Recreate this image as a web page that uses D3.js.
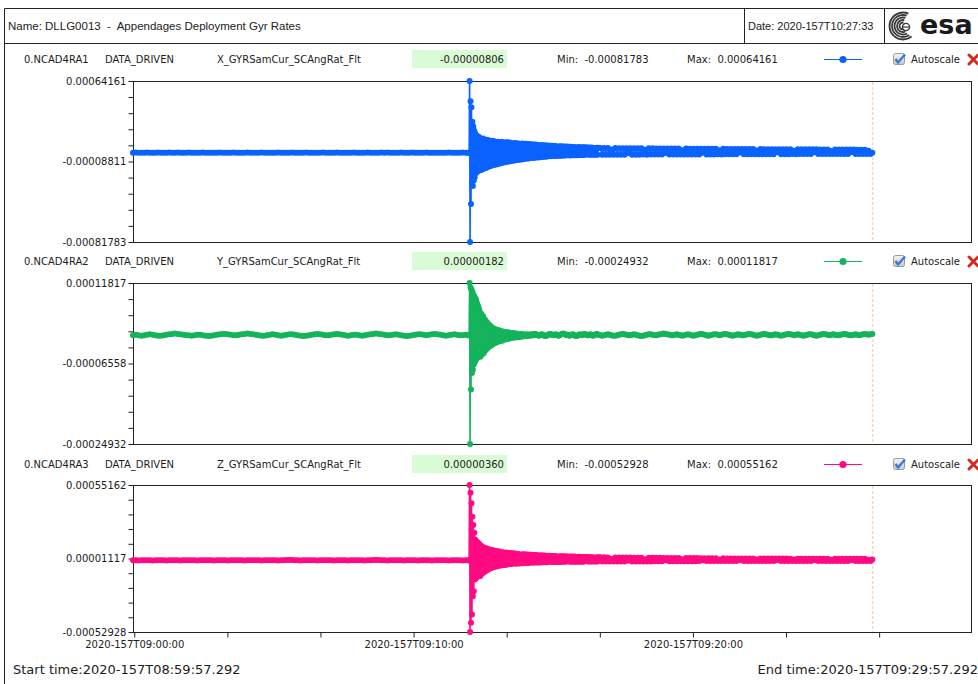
<!DOCTYPE html>
<html>
<head>
<meta charset="utf-8">
<script src="https://cdn.jsdelivr.net/npm/d3@7"></script>
<style>
  html, body { margin: 0; padding: 0; background: #fff; }
  svg { display: block; }
  text { white-space: pre; }
</style>
</head>
<body>
<svg id="chart" width="978" height="684"></svg>
<script>
// ---------------------------------------------------------------------------
// Data: gyro rates around the appendage deployment (values in micro-units)
// ---------------------------------------------------------------------------
const UNIT = 1e-6;
const startTime = Date.UTC(2020, 5, 5, 8, 59, 57, 292);   // 2020-157T08:59:57.292
const endTime = Date.UTC(2020, 5, 5, 9, 29, 57, 292);     // 2020-157T09:29:57.292
const cursorSec = 1589;                                   // live cursor, seconds after start

// sample times (seconds after start): quiet phase, high-rate burst, settling (fast, then slow)
const preTimes = d3.range(0, 721, 6);
const burstTimes = d3.range(721, 744, 1);
const settleTimes = d3.range(744, 1001, 2);
const tailTimes = d3.range(1004, 1589, 4);

const channelIds = ["0.NCAD4RA1", "0.NCAD4RA2", "0.NCAD4RA3"];
const channelModes = ["DATA_DRIVEN", "DATA_DRIVEN", "DATA_DRIVEN"];
const paramNames = ["X_GYRSamCur_SCAngRat_Flt", "Y_GYRSamCur_SCAngRat_Flt", "Z_GYRSamCur_SCAngRat_Flt"];

// ----- X axis rate -----
const xPre = [
  -8,-7,-9,-8,-8,-7,-8,-9,-8,-7,
  -8,-8,-9,-7,-8,-8,-7,-9,-8,-8,
  -7,-8,-9,-8,-8,-7,-8,-8,-9,-8,
  -8,-7,-8,-9,-8,-8,-7,-8,-8,-9,
  -8,-7,-8,-8,-9,-8,-7,-8,-8,-8,
  -9,-8,-7,-8,-8,-9,-8,-7,-8,-8,
  -8,-9,-7,-8,-8,-8,-9,-8,-7,-8,
  -8,-9,-8,-7,-8,-8,-9,-8,-8,-7,
  -8,-8,-9,-8,-7,-8,-8,-9,-8,-7,
  -8,-7,-8,-9,-8,-8,-7,-8,-9,-8,
  -7,-8,-8,-9,-8,-7,-8,-8,-9,-8,
  -8,-9,-8,-7,-8,-8,-9,-8,-7,-8,
  -8
];
const xBurst = [-8, -10, 641.61, -817.83, 458, -473, 403, -282, 273, -310, 230, -261,
  190, -230, 165, -195, 150, -185, 142, -176, 138, -170, 134];
const xSettle = [
  124,-168,118,-160,121,-152,110,-147,108,-138,
  104,-131,92,-126,99,-120,96,-117,88,-112,
  92,-108,85,-103,90,-100,70,-96,87,-92,
  86,-89,84,-86,81,-84,65,-80,79,-76,
  78,-73,76,-72,60,-70,75,-68,73,-64,
  72,-62,70,-60,69,-45,68,-57,66,-54,
  65,-52,64,-51,50,-49,62,-48,60,-45,
  59,-44,58,-43,57,-30,55,-41,54,-39,
  53,-39,52,-38,40,-37,50,-36,49,-35,
  48,-34,47,-34,47,-20,46,-33,45,-32,
  44,-31,44,-31,30,-31,43,-30,42,-30,
  41,-29,41,-29,40,-18,39,-28,38,-28,
  38,-28,37,-27,25,-27,37,-27,36
];
const xTail = [
  35,-27,35,-26,34,-27,20,-26,34,-26,
  33,-26,33,-26,33,-12,32,-26,32,-26,
  32,-26,31,-25,18,-26,31,-25,31,-25,
  30,-25,30,-25,30,-10,30,-25,29,-25,
  29,-25,29,-24,15,-25,29,-24,28,-24,
  28,-24,28,-24,28,-8,28,-24,27,-24,
  27,-24,27,-23,14,-24,27,-23,26,-23,
  26,-23,26,-23,26,-6,26,-23,25,-23,
  25,-23,25,-22,12,-23,25,-22,24,-22,
  24,-22,24,-22,24,-5,24,-22,23,-22,
  23,-22,23,-21,10,-22,23,-21,22,-21,
  22,-21,22,-21,22,-4,22,-21,21,-21,
  21,-21,21,-20,8,-21,21,-20,20,-20,
  20,-20,20,-20,20,-3,20,-20,19,-20,
  19,-20,19,-19,10,-19,-8.06
];

// ----- Y axis rate -----
const yPre = [
  -1,0,-1,-2,-1,0,1,0,-1,-2,
  -2,-1,0,1,2,3,2,1,0,-1,
  -1,-2,-1,0,0,-1,-2,-3,-2,-1,
  0,1,2,2,1,0,-1,-1,0,1,
  2,3,2,1,0,-1,-2,-2,-1,0,
  1,0,-1,-2,-1,0,1,1,0,-1,
  -2,-3,-2,-1,0,1,2,1,0,-1,
  -1,0,1,2,1,0,-1,-2,-1,0,
  0,-1,-2,-1,0,1,2,3,2,1,
  0,-1,-1,0,1,0,-1,-2,-3,-2,
  -1,0,1,1,0,-1,0,1,2,1,
  0,-1,-2,-1,0,1,0,-1,-1,0,
  -1
];
const yBurst = [-1, 0, 118.17, -249.32, 108, -125, 104, -87, 98, -80, 92, -68,
  88, -62, 84, -58, 80, -55, 72, -52, 66, -48, 60];
const ySettle = [
  55,-50,48,-45,42,-41,35,-35,29,-30,
  24,-27,20,-24,16,-21,14,-19,12,-17,
  11,-15,9,-14,8,-13,7,-11,6,-10,
  6,-9,5,-8,4,-7,4,-6,3,-6,
  3,-5,2,-5,2,-4,1,-4,1,-3,
  0,-3,1,-2,0,-2,1,-1,2,-1,
  2,1,0,-1,-2,-1,0,1,0,-1,
  -2,-3,-2,-1,0,1,2,1,0,-1,
  -1,0,1,0,-1,-2,-1,0,1,2,
  3,2,1,0,-1,0,-1,-2,-1,0,
  1,0,-1,-2,-3,-2,-1,0,1,0,
  -1,0,1,2,1,0,-1,-1,0,1,
  0,-1,-2,-1,0,1,2,1,0
];
const yTail = [
  -1,-2,-1,0,1,0,-1,-2,-2,-1,
  0,1,2,1,0,-1,-1,0,1,0,
  -1,-2,-3,-2,-1,0,1,1,0,-1,
  -1,0,1,2,3,2,1,0,-1,-1,
  0,1,0,-1,-2,-1,0,1,0,-1,
  -2,-1,0,1,2,1,0,-1,-2,-1,
  0,1,1,0,-1,0,1,2,1,0,
  -1,-2,-1,0,1,0,-1,-1,0,1,
  2,1,0,-1,-2,-1,0,1,2,1,
  0,-1,-1,0,1,0,-1,-2,-1,0,
  1,2,1,0,-1,0,1,0,-1,-2,
  -1,0,1,1,0,-1,-2,-1,0,1,
  2,1,0,-1,0,1,0,-1,-1,0,
  1,2,1,0,-1,-1,0,1,0,-1,
  0,1,2,1,0,1,1.82
];

// ----- Z axis rate -----
const zPre = [
  -2,-1,-3,-2,-2,-1,-2,-3,-2,-1,
  -2,-2,-3,-2,-1,-2,-2,-3,-2,-2,
  -1,-2,-2,-3,-2,-1,-2,-2,-2,-3,
  -2,-1,-2,-2,-3,-2,-2,-1,-2,-2,
  -3,-2,-2,-1,-2,-2,-3,-2,-2,-1,
  -2,-2,-3,-2,-1,0,1,0,-1,-2,
  -3,-2,-2,-1,-2,-2,-3,-2,-2,-1,
  -2,-2,-3,-2,-1,-2,-2,-3,-2,-2,
  -1,-2,-2,-3,-2,-1,0,1,0,-2,
  -2,-3,-2,-2,-1,-2,-2,-3,-2,-1,
  -2,-2,-3,-2,-1,-2,-2,-3,-2,-2,
  -1,-2,-2,-3,-2,-1,-2,-2,-3,-2,
  -2
];
const zBurst = [-2, -3, 551.62, -529.28, 495, -461, 418, -400, 319, -266, 258, -229,
  200, -144, 150, -135, 140, -128, 132, -122, 126, -115, 120];
const zSettle = [
  115,-118,105,-100,95,-90,88,-80,84,-72,
  80,-65,76,-58,73,-53,69,-49,66,-46,
  64,-43,61,-40,59,-38,40,-36,56,-34,
  54,-32,52,-30,50,-29,49,-15,48,-27,
  47,-26,45,-25,30,-24,43,-23,42,-22,
  41,-21,40,-21,39,-10,38,-20,37,-19,
  37,-19,36,-18,20,-18,35,-17,34,-17,
  33,-16,32,-16,32,-6,31,-15,30,-15,
  30,-15,29,-14,15,-14,28,-14,28,-13,
  27,-13,27,-13,26,-5,26,-13,25,-12,
  25,-12,25,-12,12,-12,24,-12,24,-12,
  23,-12,23,-11,22,-4,22,-11,22,-11,
  21,-11,21,-11,10,-11,21,-11,20
];
const zTail = [
  20,-11,20,-11,19,-11,8,-11,19,-10,
  19,-10,18,-10,18,-3,18,-10,17,-10,
  17,-10,17,-10,6,-10,16,-10,16,-9,
  16,-9,16,-9,15,-2,15,-9,15,-9,
  15,-9,14,-9,5,-9,14,-9,14,-9,
  14,-9,14,-8,13,-1,13,-8,13,-8,
  13,-8,13,-8,4,-8,13,-8,12,-8,
  12,-8,12,-8,12,0,12,-8,12,-8,
  12,-8,11,-8,3,-8,11,-8,11,-8,
  11,-8,11,-7,11,0,11,-7,11,-7,
  11,-7,10,-7,3,-7,10,-7,10,-7,
  10,-7,10,-7,10,0,10,-7,10,-7,
  10,-7,10,-7,2,-7,10,-7,10,-7,
  10,-7,9,-7,9,0,9,-7,9,-7,
  9,-7,9,-7,2,-7,3.60
];

// axis labels as printed (min, mid, max) for each channel
const yTickLabels = [
  ["-0.00081783", "-0.00008811", "0.00064161"],
  ["-0.00024932", "-0.00006558", "0.00011817"],
  ["-0.00052928", "0.00001117", "0.00055162"]
];
const timeTickStepSec = 200;
const timeTickCount = 9;
const firstTimeTick = Date.UTC(2020, 5, 5, 9, 0, 0);

// ---------------------------------------------------------------------------
function buildSeries(parts) {
  const pts = [];
  const timeSets = [preTimes, burstTimes, settleTimes, tailTimes];
  parts.forEach((vals, p) => timeSets[p].forEach((t, i) => {
    if (i < vals.length) pts.push({ t: new Date(startTime + t * 1000), v: vals[i] * UNIT });
  }));
  return pts;
}

const series = [
  buildSeries([xPre, xBurst, xSettle, xTail]),
  buildSeries([yPre, yBurst, ySettle, yTail]),
  buildSeries([zPre, zBurst, zSettle, zTail])
];

const colors = ["#0a62ff", "#14b35c", "#ff0a82"];
const layout = [
  { header: 63, top: 81, bottom: 242 },
  { header: 265, top: 283, bottom: 444 },
  { header: 468, top: 485, bottom: 632 }
];

const svg = d3.select("#chart");
const defs = svg.append("defs");
const plotLeft = 133, plotRight = 971;
const fmt8 = v => v.toFixed(8);
const textFont = "DejaVu Sans, Verdana, sans-serif";
const ink = "#1c1c1c";

const x = d3.scaleUtc().domain([new Date(startTime), new Date(endTime)]).range([plotLeft, plotRight]);

// ---- outer frame and title bar ----
const frame = svg.append("g").attr("stroke", "#222").attr("stroke-width", 1).attr("fill", "none");
frame.append("line").attr("x1", 4.5).attr("x2", 978).attr("y1", 8.5).attr("y2", 8.5);
frame.append("line").attr("x1", 4.5).attr("x2", 978).attr("y1", 43.5).attr("y2", 43.5);
frame.append("line").attr("x1", 4.5).attr("x2", 4.5).attr("y1", 8.5).attr("y2", 684);
frame.append("line").attr("x1", 744.5).attr("x2", 744.5).attr("y1", 8.5).attr("y2", 43.5);
frame.append("line").attr("x1", 884.5).attr("x2", 884.5).attr("y1", 8.5).attr("y2", 43.5);

svg.append("text").attr("x", 8).attr("y", 30)
  .attr("font-family", "Liberation Sans, Arial, sans-serif").attr("font-size", 11.5).attr("fill", ink)
  .text("Name: DLLG0013  -  Appendages Deployment Gyr Rates");
svg.append("text").attr("x", 748).attr("y", 30)
  .attr("font-family", "Liberation Sans, Arial, sans-serif").attr("font-size", 11).attr("fill", ink)
  .text("Date: 2020-157T10:27:33");

// agency mark: swirl globe + wordmark
const logo = svg.append("g").attr("transform", "translate(903,26)");
[3.5, 6, 8.5, 11, 13.5].forEach((r, i) => {
  logo.append("path")
    .attr("d", d3.arc().innerRadius(r - 0.9).outerRadius(r + 0.9)
      .startAngle(Math.PI * (0.9 - i * 0.03)).endAngle(Math.PI * (2.05 + i * 0.02))())
    .attr("fill", "#3a3a3a");
});
logo.append("circle").attr("cx", 3).attr("cy", 1).attr("r", 3.6)
  .attr("fill", "#fff").attr("stroke", "#3a3a3a").attr("stroke-width", 1.3);
logo.append("line").attr("x1", 0).attr("x2", 6.4).attr("y1", 1).attr("y2", 1)
  .attr("stroke", "#3a3a3a").attr("stroke-width", 1.2);
svg.append("text").attr("x", 920).attr("y", 34)
  .attr("font-family", "DejaVu Sans, sans-serif").attr("font-weight", "bold")
  .attr("font-size", 27).attr("fill", "#1a1a1a").text("esa");

// ---- one panel per gyro axis ----
series.forEach((data, i) => {
  const L = layout[i];
  const color = colors[i];
  const [vMin, vMax] = d3.extent(data, d => d.v);
  const y = d3.scaleLinear().domain([vMin, vMax]).range([L.bottom, L.top]);
  const g = svg.append("g");

  // current-value box (drawn under its text)
  g.append("rect").attr("x", 412).attr("y", L.header - 13).attr("width", 95).attr("height", 18)
    .attr("fill", "#d9fbd6");

  // header row
  const hdr = g.append("g").attr("font-family", textFont).attr("font-size", 10).attr("fill", ink);
  hdr.append("text").attr("x", 24).attr("y", L.header).text(channelIds[i]);
  hdr.append("text").attr("x", 105).attr("y", L.header).text(channelModes[i]);
  hdr.append("text").attr("x", 217).attr("y", L.header).text(paramNames[i]);
  hdr.append("text").attr("x", 504).attr("y", L.header).attr("text-anchor", "end")
    .text(fmt8(data[data.length - 1].v));
  hdr.append("text").attr("x", 557).attr("y", L.header).text("Min:  " + fmt8(vMin));
  hdr.append("text").attr("x", 687).attr("y", L.header).text("Max:  " + fmt8(vMax));

  // legend sample
  g.append("line").attr("x1", 824).attr("x2", 862).attr("y1", L.header - 3.5).attr("y2", L.header - 3.5)
    .attr("stroke", color).attr("stroke-width", 1.2);
  g.append("circle").attr("cx", 843).attr("cy", L.header - 3.5).attr("r", 3.6).attr("fill", color);

  // autoscale checkbox
  const cb = g.append("g").attr("transform", `translate(893,${L.header - 10})`);
  const gradId = "cbGrad" + i;
  const grad = defs.append("linearGradient").attr("id", gradId)
    .attr("x1", 0).attr("y1", 0).attr("x2", 0).attr("y2", 1);
  grad.append("stop").attr("offset", "0%").attr("stop-color", "#f4f4f4");
  grad.append("stop").attr("offset", "100%").attr("stop-color", "#c9c9c9");
  cb.append("rect").attr("x", 0.5).attr("y", 0.5).attr("width", 11).attr("height", 11).attr("rx", 2)
    .attr("fill", `url(#${gradId})`).attr("stroke", "#9a9a9a");
  cb.append("path").attr("d", "M2.5,6 L5,9.5 L12,1.5").attr("fill", "none")
    .attr("stroke", "#3c78d8").attr("stroke-width", 2.4).attr("stroke-linejoin", "round");
  hdr.append("text").attr("x", 911).attr("y", L.header).text("Autoscale");
  const xm = g.append("g").attr("stroke", "#d42a1e").attr("stroke-width", 3).attr("stroke-linecap", "round");
  xm.append("line").attr("x1", 969).attr("x2", 978).attr("y1", L.header - 8).attr("y2", L.header + 1);
  xm.append("line").attr("x1", 969).attr("x2", 978).attr("y1", L.header + 1).attr("y2", L.header - 8);

  // plot frame
  g.append("rect").attr("x", plotLeft + 0.5).attr("y", L.top + 0.5)
    .attr("width", plotRight - plotLeft).attr("height", L.bottom - L.top)
    .attr("fill", "none").attr("stroke", "#222").attr("stroke-width", 1);

  // live cursor
  const cx = x(new Date(startTime + cursorSec * 1000));
  g.append("line").attr("x1", cx).attr("x2", cx)
    .attr("y1", L.top + 1).attr("y2", L.bottom)
    .attr("stroke", "#f4c99c").attr("stroke-width", 1).attr("stroke-dasharray", "3,2");

  // y axis: ten divisions, labels at min / mid / max
  const step = (vMax - vMin) / 10;
  const tickVals = d3.range(11).map(k => vMin + k * step);
  const yAxis = d3.axisLeft(y).tickValues(tickVals).tickSize(5).tickSizeOuter(0)
    .tickFormat((d, k) => k === 0 ? yTickLabels[i][0] : k === 5 ? yTickLabels[i][1] : k === 10 ? yTickLabels[i][2] : "");
  const ya = g.append("g").attr("transform", `translate(${plotLeft + 0.5},0)`).call(yAxis);
  ya.select(".domain").remove();
  ya.selectAll("line").attr("stroke", "#222");
  ya.selectAll("text").attr("font-family", textFont).attr("font-size", 10).attr("fill", ink).attr("x", -7);

  // trace
  const line = d3.line().x(d => x(d.t)).y(d => y(d.v));
  g.append("path").datum(data).attr("d", line)
    .attr("fill", "none").attr("stroke", color).attr("stroke-width", 1.6).attr("stroke-linejoin", "round");
  g.append("g").selectAll("circle").data(data).join("circle")
    .attr("cx", d => x(d.t)).attr("cy", d => y(d.v)).attr("r", 3).attr("fill", color);

  // time axis under the last panel
  if (i === series.length - 1) {
    const tickTimes = d3.range(timeTickCount).map(k => new Date(firstTimeTick + k * timeTickStepSec * 1000));
    const tf = d3.utcFormat("%Y-%jT%H:%M:%S");
    const xAxis = d3.axisBottom(x).tickValues(tickTimes).tickSize(5).tickSizeOuter(0)
      .tickFormat((d, k) => k % 3 === 0 ? tf(d) : "");
    const xa = g.append("g").attr("transform", `translate(0,${L.bottom + 0.5})`).call(xAxis);
    xa.select(".domain").remove();
    xa.selectAll("line").attr("stroke", "#222");
    xa.selectAll("text").attr("font-family", textFont).attr("font-size", 10).attr("fill", ink).attr("y", 8);
  }
});

// ---- footer ----
svg.append("text").attr("x", 13).attr("y", 674).attr("font-family", textFont).attr("font-size", 13)
  .attr("fill", ink).text("Start time:" + d3.utcFormat("%Y-%jT%H:%M:%S.%L")(new Date(startTime)));
svg.append("text").attr("x", 978).attr("y", 674).attr("text-anchor", "end").attr("font-family", textFont)
  .attr("font-size", 13).attr("fill", ink)
  .text("End time:" + d3.utcFormat("%Y-%jT%H:%M:%S.%L")(new Date(endTime)));
</script>
</body>
</html>
